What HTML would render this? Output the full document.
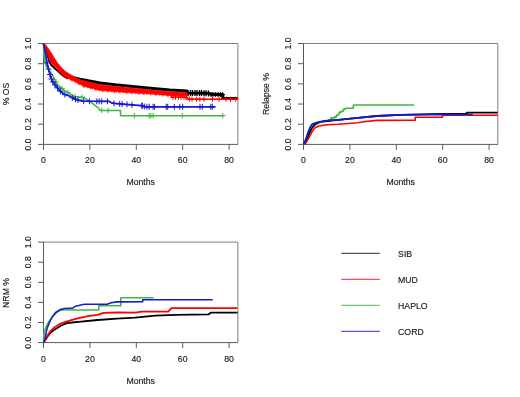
<!DOCTYPE html><html><head><meta charset="utf-8"><style>html,body{margin:0;padding:0;background:#fff;}svg{display:block;filter:blur(0.35px);}text{font-family:"Liberation Sans",sans-serif;font-size:8.7px;fill:#1a1a1a;stroke:#1a1a1a;stroke-width:0.15px;}</style></head><body>
<svg width="520" height="397" viewBox="0 0 520 397">
<path d="M43.5 144.4H237.9" stroke="#5a5a5a" stroke-width="1" fill="none"/>
<path d="M43.5 144.4V43.5" stroke="#5a5a5a" stroke-width="1" fill="none"/>
<path d="M43.0 43.5H237.9V144.9" stroke="#808080" stroke-width="1" fill="none"/>
<line x1="43.50" y1="144.4" x2="43.50" y2="149.9" stroke="#5a5a5a" stroke-width="1"/>
<text x="43.50" y="163.30" text-anchor="middle">0</text>
<line x1="89.90" y1="144.4" x2="89.90" y2="149.9" stroke="#5a5a5a" stroke-width="1"/>
<text x="89.90" y="163.30" text-anchor="middle">20</text>
<line x1="136.30" y1="144.4" x2="136.30" y2="149.9" stroke="#5a5a5a" stroke-width="1"/>
<text x="136.30" y="163.30" text-anchor="middle">40</text>
<line x1="182.70" y1="144.4" x2="182.70" y2="149.9" stroke="#5a5a5a" stroke-width="1"/>
<text x="182.70" y="163.30" text-anchor="middle">60</text>
<line x1="229.10" y1="144.4" x2="229.10" y2="149.9" stroke="#5a5a5a" stroke-width="1"/>
<text x="229.10" y="163.30" text-anchor="middle">80</text>
<line x1="38.0" y1="144.40" x2="43.5" y2="144.40" stroke="#5a5a5a" stroke-width="1"/>
<text transform="translate(30.80,144.40) rotate(-90)" text-anchor="middle">0.0</text>
<line x1="38.0" y1="124.22" x2="43.5" y2="124.22" stroke="#5a5a5a" stroke-width="1"/>
<text transform="translate(30.80,124.22) rotate(-90)" text-anchor="middle">0.2</text>
<line x1="38.0" y1="104.04" x2="43.5" y2="104.04" stroke="#5a5a5a" stroke-width="1"/>
<text transform="translate(30.80,104.04) rotate(-90)" text-anchor="middle">0.4</text>
<line x1="38.0" y1="83.86" x2="43.5" y2="83.86" stroke="#5a5a5a" stroke-width="1"/>
<text transform="translate(30.80,83.86) rotate(-90)" text-anchor="middle">0.6</text>
<line x1="38.0" y1="63.68" x2="43.5" y2="63.68" stroke="#5a5a5a" stroke-width="1"/>
<text transform="translate(30.80,63.68) rotate(-90)" text-anchor="middle">0.8</text>
<line x1="38.0" y1="43.50" x2="43.5" y2="43.50" stroke="#5a5a5a" stroke-width="1"/>
<text transform="translate(30.80,43.50) rotate(-90)" text-anchor="middle">1.0</text>
<text x="140.70" y="184.80" text-anchor="middle">Months</text>
<text transform="translate(9.00,93.95) rotate(-90)" text-anchor="middle">% OS</text>
<path d="M303.5 144.4H497.8" stroke="#5a5a5a" stroke-width="1" fill="none"/>
<path d="M303.5 144.4V43.5" stroke="#5a5a5a" stroke-width="1" fill="none"/>
<path d="M303.0 43.5H497.8V144.9" stroke="#808080" stroke-width="1" fill="none"/>
<line x1="303.50" y1="144.4" x2="303.50" y2="149.9" stroke="#5a5a5a" stroke-width="1"/>
<text x="303.50" y="163.30" text-anchor="middle">0</text>
<line x1="349.90" y1="144.4" x2="349.90" y2="149.9" stroke="#5a5a5a" stroke-width="1"/>
<text x="349.90" y="163.30" text-anchor="middle">20</text>
<line x1="396.30" y1="144.4" x2="396.30" y2="149.9" stroke="#5a5a5a" stroke-width="1"/>
<text x="396.30" y="163.30" text-anchor="middle">40</text>
<line x1="442.70" y1="144.4" x2="442.70" y2="149.9" stroke="#5a5a5a" stroke-width="1"/>
<text x="442.70" y="163.30" text-anchor="middle">60</text>
<line x1="489.10" y1="144.4" x2="489.10" y2="149.9" stroke="#5a5a5a" stroke-width="1"/>
<text x="489.10" y="163.30" text-anchor="middle">80</text>
<line x1="298.0" y1="144.40" x2="303.5" y2="144.40" stroke="#5a5a5a" stroke-width="1"/>
<text transform="translate(290.80,144.40) rotate(-90)" text-anchor="middle">0.0</text>
<line x1="298.0" y1="124.22" x2="303.5" y2="124.22" stroke="#5a5a5a" stroke-width="1"/>
<text transform="translate(290.80,124.22) rotate(-90)" text-anchor="middle">0.2</text>
<line x1="298.0" y1="104.04" x2="303.5" y2="104.04" stroke="#5a5a5a" stroke-width="1"/>
<text transform="translate(290.80,104.04) rotate(-90)" text-anchor="middle">0.4</text>
<line x1="298.0" y1="83.86" x2="303.5" y2="83.86" stroke="#5a5a5a" stroke-width="1"/>
<text transform="translate(290.80,83.86) rotate(-90)" text-anchor="middle">0.6</text>
<line x1="298.0" y1="63.68" x2="303.5" y2="63.68" stroke="#5a5a5a" stroke-width="1"/>
<text transform="translate(290.80,63.68) rotate(-90)" text-anchor="middle">0.8</text>
<line x1="298.0" y1="43.50" x2="303.5" y2="43.50" stroke="#5a5a5a" stroke-width="1"/>
<text transform="translate(290.80,43.50) rotate(-90)" text-anchor="middle">1.0</text>
<text x="400.65" y="184.80" text-anchor="middle">Months</text>
<text transform="translate(269.00,93.95) rotate(-90)" text-anchor="middle">Relapse %</text>
<path d="M43.5 342.6H237.9" stroke="#5a5a5a" stroke-width="1" fill="none"/>
<path d="M43.5 342.6V242.1" stroke="#5a5a5a" stroke-width="1" fill="none"/>
<path d="M43.0 242.1H237.9V343.1" stroke="#808080" stroke-width="1" fill="none"/>
<line x1="43.50" y1="342.6" x2="43.50" y2="348.1" stroke="#5a5a5a" stroke-width="1"/>
<text x="43.50" y="362.00" text-anchor="middle">0</text>
<line x1="89.90" y1="342.6" x2="89.90" y2="348.1" stroke="#5a5a5a" stroke-width="1"/>
<text x="89.90" y="362.00" text-anchor="middle">20</text>
<line x1="136.30" y1="342.6" x2="136.30" y2="348.1" stroke="#5a5a5a" stroke-width="1"/>
<text x="136.30" y="362.00" text-anchor="middle">40</text>
<line x1="182.70" y1="342.6" x2="182.70" y2="348.1" stroke="#5a5a5a" stroke-width="1"/>
<text x="182.70" y="362.00" text-anchor="middle">60</text>
<line x1="229.10" y1="342.6" x2="229.10" y2="348.1" stroke="#5a5a5a" stroke-width="1"/>
<text x="229.10" y="362.00" text-anchor="middle">80</text>
<line x1="38.0" y1="342.60" x2="43.5" y2="342.60" stroke="#5a5a5a" stroke-width="1"/>
<text transform="translate(30.80,342.60) rotate(-90)" text-anchor="middle">0.0</text>
<line x1="38.0" y1="322.50" x2="43.5" y2="322.50" stroke="#5a5a5a" stroke-width="1"/>
<text transform="translate(30.80,322.50) rotate(-90)" text-anchor="middle">0.2</text>
<line x1="38.0" y1="302.40" x2="43.5" y2="302.40" stroke="#5a5a5a" stroke-width="1"/>
<text transform="translate(30.80,302.40) rotate(-90)" text-anchor="middle">0.4</text>
<line x1="38.0" y1="282.30" x2="43.5" y2="282.30" stroke="#5a5a5a" stroke-width="1"/>
<text transform="translate(30.80,282.30) rotate(-90)" text-anchor="middle">0.6</text>
<line x1="38.0" y1="262.20" x2="43.5" y2="262.20" stroke="#5a5a5a" stroke-width="1"/>
<text transform="translate(30.80,262.20) rotate(-90)" text-anchor="middle">0.8</text>
<line x1="38.0" y1="242.10" x2="43.5" y2="242.10" stroke="#5a5a5a" stroke-width="1"/>
<text transform="translate(30.80,242.10) rotate(-90)" text-anchor="middle">1.0</text>
<text x="140.70" y="383.50" text-anchor="middle">Months</text>
<text transform="translate(9.00,292.95) rotate(-90)" text-anchor="middle">NRM %</text>
<polyline points="43.5,43.6 45.1,47.5 46.3,51.0 47.6,55.5 49.0,60.6 51.0,64.8 54.0,67.7 57.3,70.5 60.6,73.5 63.8,76.3 67.1,78.2 68.0,78.4" fill="none" stroke="#000" stroke-width="1.8" stroke-linejoin="round" />
<polyline points="68.0,76.3 72.0,77.4 78.0,78.6 80.0,79.2 100.0,83.0 115.0,84.8 130.0,86.2 153.0,88.6 170.0,90.1 187.0,91.1 187.0,93.0 208.0,93.2 211.0,94.4 222.8,94.6 222.8,98.6 237.5,98.6" fill="none" stroke="#000" stroke-width="3.0" stroke-linejoin="round" />
<path d="M185.0 93.0H191.0M188.0 90.0V96.0" stroke="#000" stroke-width="1.3" fill="none"/>
<path d="M187.5 93.0H193.5M190.5 90.0V96.0" stroke="#000" stroke-width="1.3" fill="none"/>
<path d="M189.5 93.1H195.5M192.5 90.1V96.1" stroke="#000" stroke-width="1.3" fill="none"/>
<path d="M192.0 93.1H198.0M195.0 90.1V96.1" stroke="#000" stroke-width="1.3" fill="none"/>
<path d="M194.0 93.1H200.0M197.0 90.1V96.1" stroke="#000" stroke-width="1.3" fill="none"/>
<path d="M196.5 93.1H202.5M199.5 90.1V96.1" stroke="#000" stroke-width="1.3" fill="none"/>
<path d="M198.5 93.1H204.5M201.5 90.1V96.1" stroke="#000" stroke-width="1.3" fill="none"/>
<path d="M201.0 93.2H207.0M204.0 90.2V96.2" stroke="#000" stroke-width="1.3" fill="none"/>
<path d="M203.0 93.2H209.0M206.0 90.2V96.2" stroke="#000" stroke-width="1.3" fill="none"/>
<path d="M205.5 93.4H211.5M208.5 90.4V96.4" stroke="#000" stroke-width="1.3" fill="none"/>
<path d="M208.7 94.4H213.3M211.0 92.1V96.7" stroke="#000" stroke-width="1.3" fill="none"/>
<path d="M210.7 94.4H215.3M213.0 92.1V96.7" stroke="#000" stroke-width="1.3" fill="none"/>
<path d="M213.2 94.5H217.8M215.5 92.2V96.8" stroke="#000" stroke-width="1.3" fill="none"/>
<path d="M215.7 94.5H220.3M218.0 92.2V96.8" stroke="#000" stroke-width="1.3" fill="none"/>
<path d="M218.2 94.6H222.8M220.5 92.3V96.9" stroke="#000" stroke-width="1.3" fill="none"/>
<path d="M220.2 94.6H224.8M222.5 92.3V96.9" stroke="#000" stroke-width="1.3" fill="none"/>
<path d="M43.5,43.6 L45.0,44.0 L48.0,48.0 L52.0,54.0 L54.0,57.5 L57.3,62.6 L60.6,66.6 L63.8,70.0 L67.1,72.6 L70.4,74.6 L73.7,76.3 L78.0,78.4 L80.0,79.6 L100.0,84.5 L115.0,86.3 L130.0,87.7 L153.0,90.1 L170.0,91.7 L187.0,92.6 L187.0,96.0 L170.0,95.4 L153.0,94.0 L130.0,92.5 L115.0,91.5 L100.0,90.3 L84.0,86.2 L78.0,83.0 L73.7,80.9 L70.4,79.4 L67.1,77.8 L63.8,75.6 L60.6,72.6 L57.3,69.5 L54.0,66.2 L53.0,65.2 L50.6,62.2 L48.5,57.5 L46.6,51.9 L44.5,47.0 L43.5,43.6Z" fill="#f00" stroke="#f00" stroke-width="0.6" stroke-linejoin="round"/>
<path d="M57.8 71.6H62.2M60.0 69.4V73.8" stroke="#f00" stroke-width="0.9" fill="none"/>
<path d="M60.5 73.4H64.9M62.7 71.2V75.6" stroke="#f00" stroke-width="0.9" fill="none"/>
<path d="M61.8 74.5H66.2M64.0 72.3V76.7" stroke="#f00" stroke-width="0.9" fill="none"/>
<path d="M64.5 77.1H68.9M66.7 74.9V79.3" stroke="#f00" stroke-width="0.9" fill="none"/>
<path d="M65.8 77.0H70.2M68.0 74.8V79.2" stroke="#f00" stroke-width="0.9" fill="none"/>
<path d="M68.5 78.3H72.9M70.7 76.1V80.5" stroke="#f00" stroke-width="0.9" fill="none"/>
<path d="M69.8 79.7H74.2M72.0 77.5V81.9" stroke="#f00" stroke-width="0.9" fill="none"/>
<path d="M72.5 80.2H76.9M74.7 78.0V82.4" stroke="#f00" stroke-width="0.9" fill="none"/>
<path d="M73.8 80.8H78.2M76.0 78.6V83.0" stroke="#f00" stroke-width="0.9" fill="none"/>
<path d="M76.5 83.0H80.9M78.7 80.8V85.2" stroke="#f00" stroke-width="0.9" fill="none"/>
<path d="M77.8 82.9H82.2M80.0 80.7V85.1" stroke="#f00" stroke-width="0.9" fill="none"/>
<path d="M80.5 84.3H84.9M82.7 82.1V86.5" stroke="#f00" stroke-width="0.9" fill="none"/>
<path d="M81.8 85.8H86.2M84.0 83.6V88.0" stroke="#f00" stroke-width="0.9" fill="none"/>
<path d="M84.5 85.7H88.9M86.7 83.5V87.9" stroke="#f00" stroke-width="0.9" fill="none"/>
<path d="M85.8 86.0H90.2M88.0 83.8V88.2" stroke="#f00" stroke-width="0.9" fill="none"/>
<path d="M88.5 87.5H92.9M90.7 85.3V89.7" stroke="#f00" stroke-width="0.9" fill="none"/>
<path d="M89.8 87.0H94.2M92.0 84.8V89.2" stroke="#f00" stroke-width="0.9" fill="none"/>
<path d="M92.5 87.7H96.9M94.7 85.5V89.9" stroke="#f00" stroke-width="0.9" fill="none"/>
<path d="M93.8 88.9H98.2M96.0 86.7V91.1" stroke="#f00" stroke-width="0.9" fill="none"/>
<path d="M96.5 88.8H100.9M98.7 86.6V91.0" stroke="#f00" stroke-width="0.9" fill="none"/>
<path d="M97.8 89.1H102.2M100.0 86.9V91.3" stroke="#f00" stroke-width="0.9" fill="none"/>
<path d="M100.5 90.1H104.9M102.7 87.9V92.3" stroke="#f00" stroke-width="0.9" fill="none"/>
<path d="M101.8 89.4H106.2M104.0 87.2V91.6" stroke="#f00" stroke-width="0.9" fill="none"/>
<path d="M104.5 89.6H108.9M106.7 87.4V91.8" stroke="#f00" stroke-width="0.9" fill="none"/>
<path d="M105.8 90.5H110.2M108.0 88.3V92.7" stroke="#f00" stroke-width="0.9" fill="none"/>
<path d="M108.5 90.0H112.9M110.7 87.8V92.2" stroke="#f00" stroke-width="0.9" fill="none"/>
<path d="M109.8 90.1H114.2M112.0 87.9V92.3" stroke="#f00" stroke-width="0.9" fill="none"/>
<path d="M112.5 91.1H116.9M114.7 88.9V93.3" stroke="#f00" stroke-width="0.9" fill="none"/>
<path d="M113.8 90.4H118.2M116.0 88.2V92.6" stroke="#f00" stroke-width="0.9" fill="none"/>
<path d="M116.5 90.5H120.9M118.7 88.3V92.7" stroke="#f00" stroke-width="0.9" fill="none"/>
<path d="M117.8 91.4H122.2M120.0 89.2V93.6" stroke="#f00" stroke-width="0.9" fill="none"/>
<path d="M120.5 90.8H124.9M122.7 88.6V93.0" stroke="#f00" stroke-width="0.9" fill="none"/>
<path d="M121.8 90.9H126.2M124.0 88.7V93.1" stroke="#f00" stroke-width="0.9" fill="none"/>
<path d="M124.5 91.9H128.9M126.7 89.7V94.1" stroke="#f00" stroke-width="0.9" fill="none"/>
<path d="M125.8 91.2H130.2M128.0 89.0V93.4" stroke="#f00" stroke-width="0.9" fill="none"/>
<path d="M128.5 91.3H132.9M130.7 89.1V93.5" stroke="#f00" stroke-width="0.9" fill="none"/>
<path d="M129.8 92.2H134.2M132.0 90.0V94.4" stroke="#f00" stroke-width="0.9" fill="none"/>
<path d="M132.5 91.6H136.9M134.7 89.4V93.8" stroke="#f00" stroke-width="0.9" fill="none"/>
<path d="M133.8 91.7H138.2M136.0 89.5V93.9" stroke="#f00" stroke-width="0.9" fill="none"/>
<path d="M136.5 92.7H140.9M138.7 90.5V94.9" stroke="#f00" stroke-width="0.9" fill="none"/>
<path d="M137.8 92.0H142.2M140.0 89.8V94.2" stroke="#f00" stroke-width="0.9" fill="none"/>
<path d="M140.5 92.1H144.9M142.7 89.9V94.3" stroke="#f00" stroke-width="0.9" fill="none"/>
<path d="M141.8 93.0H146.2M144.0 90.8V95.2" stroke="#f00" stroke-width="0.9" fill="none"/>
<path d="M144.5 92.4H148.9M146.7 90.2V94.6" stroke="#f00" stroke-width="0.9" fill="none"/>
<path d="M145.8 92.5H150.2M148.0 90.3V94.7" stroke="#f00" stroke-width="0.9" fill="none"/>
<path d="M148.5 93.4H152.9M150.7 91.2V95.6" stroke="#f00" stroke-width="0.9" fill="none"/>
<path d="M149.8 92.7H154.2M152.0 90.5V94.9" stroke="#f00" stroke-width="0.9" fill="none"/>
<path d="M152.5 92.9H156.9M154.7 90.7V95.1" stroke="#f00" stroke-width="0.9" fill="none"/>
<path d="M153.8 93.8H158.2M156.0 91.6V96.0" stroke="#f00" stroke-width="0.9" fill="none"/>
<path d="M156.5 93.3H160.9M158.7 91.1V95.5" stroke="#f00" stroke-width="0.9" fill="none"/>
<path d="M157.8 93.4H162.2M160.0 91.2V95.6" stroke="#f00" stroke-width="0.9" fill="none"/>
<path d="M160.5 94.4H164.9M162.7 92.2V96.6" stroke="#f00" stroke-width="0.9" fill="none"/>
<path d="M161.8 93.7H166.2M164.0 91.5V95.9" stroke="#f00" stroke-width="0.9" fill="none"/>
<path d="M164.5 93.9H168.9M166.7 91.7V96.1" stroke="#f00" stroke-width="0.9" fill="none"/>
<path d="M165.8 94.8H170.2M168.0 92.6V97.0" stroke="#f00" stroke-width="0.9" fill="none"/>
<path d="M168.5 94.2H172.9M170.7 92.0V96.4" stroke="#f00" stroke-width="0.9" fill="none"/>
<path d="M169.8 94.3H174.2M172.0 92.1V96.5" stroke="#f00" stroke-width="0.9" fill="none"/>
<path d="M172.5 95.2H176.9M174.7 93.0V97.4" stroke="#f00" stroke-width="0.9" fill="none"/>
<path d="M173.8 94.4H178.2M176.0 92.2V96.6" stroke="#f00" stroke-width="0.9" fill="none"/>
<path d="M176.5 94.5H180.9M178.7 92.3V96.7" stroke="#f00" stroke-width="0.9" fill="none"/>
<path d="M177.8 95.4H182.2M180.0 93.2V97.6" stroke="#f00" stroke-width="0.9" fill="none"/>
<path d="M180.5 94.6H184.9M182.7 92.4V96.8" stroke="#f00" stroke-width="0.9" fill="none"/>
<path d="M181.8 94.7H186.2M184.0 92.5V96.9" stroke="#f00" stroke-width="0.9" fill="none"/>
<path d="M184.5 95.6H188.9M186.7 93.4V97.8" stroke="#f00" stroke-width="0.9" fill="none"/>
<polyline points="171.5,95.0 171.5,97.3 187.0,97.3 187.0,99.2 237.5,99.2" fill="none" stroke="#f00" stroke-width="1.5" stroke-linejoin="round" />
<path d="M170.5 97.3H175.5M173.0 94.8V99.8" stroke="#f00" stroke-width="1.0" fill="none"/>
<path d="M173.0 97.3H178.0M175.5 94.8V99.8" stroke="#f00" stroke-width="1.0" fill="none"/>
<path d="M176.0 97.3H181.0M178.5 94.8V99.8" stroke="#f00" stroke-width="1.0" fill="none"/>
<path d="M178.5 97.3H183.5M181.0 94.8V99.8" stroke="#f00" stroke-width="1.0" fill="none"/>
<path d="M181.5 97.3H186.5M184.0 94.8V99.8" stroke="#f00" stroke-width="1.0" fill="none"/>
<path d="M183.5 97.3H188.5M186.0 94.8V99.8" stroke="#f00" stroke-width="1.0" fill="none"/>
<path d="M186.8 99.2H192.0M189.4 96.6V101.8" stroke="#f00" stroke-width="1.0" fill="none"/>
<path d="M189.4 99.2H194.6M192.0 96.6V101.8" stroke="#f00" stroke-width="1.0" fill="none"/>
<path d="M194.0 99.2H199.2M196.6 96.6V101.8" stroke="#f00" stroke-width="1.0" fill="none"/>
<path d="M197.2 99.2H202.4M199.8 96.6V101.8" stroke="#f00" stroke-width="1.0" fill="none"/>
<path d="M201.4 99.2H206.6M204.0 96.6V101.8" stroke="#f00" stroke-width="1.0" fill="none"/>
<path d="M209.9 99.2H215.1M212.5 96.6V101.8" stroke="#f00" stroke-width="1.0" fill="none"/>
<path d="M216.4 99.2H221.6M219.0 96.6V101.8" stroke="#f00" stroke-width="1.0" fill="none"/>
<path d="M223.4 99.2H228.6M226.0 96.6V101.8" stroke="#f00" stroke-width="1.0" fill="none"/>
<path d="M227.9 99.2H233.1M230.5 96.6V101.8" stroke="#f00" stroke-width="1.0" fill="none"/>
<path d="M233.2 99.2H238.4M235.8 96.6V101.8" stroke="#f00" stroke-width="1.0" fill="none"/>
<polyline points="43.5,43.6 43.6,47.5 43.9,54.6 44.9,61.6 46.3,66.6 48.5,69.4 50.6,72.0 52.9,76.2 55.7,81.3 57.6,84.9 64.6,90.7 69.4,93.5 74.2,96.4 83.8,97.4 88.7,100.8 93.5,104.1 98.3,108.0 100.0,110.4 120.5,110.4 120.5,115.7 222.8,115.7" fill="none" stroke="#3cb93c" stroke-width="1.5" stroke-linejoin="round" />
<path d="M99.0 110.4H104.4M101.7 107.7V113.1" stroke="#3cb93c" stroke-width="1.0" fill="none"/>
<path d="M105.5 110.4H110.9M108.2 107.7V113.1" stroke="#3cb93c" stroke-width="1.0" fill="none"/>
<path d="M131.7 115.7H137.1M134.4 113.0V118.4" stroke="#3cb93c" stroke-width="1.0" fill="none"/>
<path d="M146.5 115.7H151.9M149.2 113.0V118.4" stroke="#3cb93c" stroke-width="1.0" fill="none"/>
<path d="M148.1 115.7H153.5M150.8 113.0V118.4" stroke="#3cb93c" stroke-width="1.0" fill="none"/>
<path d="M150.4 115.7H155.8M153.1 113.0V118.4" stroke="#3cb93c" stroke-width="1.0" fill="none"/>
<path d="M179.6 115.7H185.0M182.3 113.0V118.4" stroke="#3cb93c" stroke-width="1.0" fill="none"/>
<path d="M220.1 115.7H225.5M222.8 113.0V118.4" stroke="#3cb93c" stroke-width="1.0" fill="none"/>
<path d="M53.3 81.9H58.7M56.0 79.2V84.6" stroke="#3cb93c" stroke-width="1.0" fill="none"/>
<path d="M59.3 88.5H64.7M62.0 85.8V91.2" stroke="#3cb93c" stroke-width="1.0" fill="none"/>
<path d="M65.3 92.7H70.7M68.0 90.0V95.4" stroke="#3cb93c" stroke-width="1.0" fill="none"/>
<path d="M72.3 96.5H77.7M75.0 93.8V99.2" stroke="#3cb93c" stroke-width="1.0" fill="none"/>
<path d="M79.3 97.2H84.7M82.0 94.5V99.9" stroke="#3cb93c" stroke-width="1.0" fill="none"/>
<polyline points="43.5,43.6 44.2,46.8 45.6,54.6 46.7,61.6 47.8,65.9 49.2,72.0 50.3,75.5 52.0,80.5 55.0,84.9 59.8,90.7 64.6,94.5 69.4,96.0 74.2,98.8 79.0,100.3 83.8,101.2 109.0,101.3 111.0,102.5 114.0,103.3 125.4,104.3 141.7,105.6 145.0,106.8 215.4,106.8" fill="none" stroke="#1a1acc" stroke-width="1.8" stroke-linejoin="round" />
<path d="M44.0 62.8H50.0M47.0 59.8V65.8" stroke="#1a1acc" stroke-width="1.0" fill="none"/>
<path d="M45.5 69.0H51.5M48.5 66.0V72.0" stroke="#1a1acc" stroke-width="1.0" fill="none"/>
<path d="M47.0 74.5H53.0M50.0 71.5V77.5" stroke="#1a1acc" stroke-width="1.0" fill="none"/>
<path d="M48.5 79.0H54.5M51.5 76.0V82.0" stroke="#1a1acc" stroke-width="1.0" fill="none"/>
<path d="M50.0 82.0H56.0M53.0 79.0V85.0" stroke="#1a1acc" stroke-width="1.0" fill="none"/>
<path d="M52.0 84.9H58.0M55.0 81.9V87.9" stroke="#1a1acc" stroke-width="1.0" fill="none"/>
<path d="M54.5 87.9H60.5M57.5 84.9V90.9" stroke="#1a1acc" stroke-width="1.0" fill="none"/>
<path d="M57.5 91.3H63.5M60.5 88.3V94.3" stroke="#1a1acc" stroke-width="1.0" fill="none"/>
<path d="M61.9 94.6H67.9M64.9 91.6V97.6" stroke="#1a1acc" stroke-width="1.0" fill="none"/>
<path d="M69.3 97.7H75.3M72.3 94.7V100.7" stroke="#1a1acc" stroke-width="1.0" fill="none"/>
<path d="M72.5 99.2H78.5M75.5 96.2V102.2" stroke="#1a1acc" stroke-width="1.0" fill="none"/>
<path d="M75.0 100.0H81.0M78.0 97.0V103.0" stroke="#1a1acc" stroke-width="1.0" fill="none"/>
<path d="M80.7 101.2H86.7M83.7 98.2V104.2" stroke="#1a1acc" stroke-width="1.0" fill="none"/>
<path d="M86.4 101.2H92.4M89.4 98.2V104.2" stroke="#1a1acc" stroke-width="1.0" fill="none"/>
<path d="M93.8 101.3H99.8M96.8 98.3V104.3" stroke="#1a1acc" stroke-width="1.0" fill="none"/>
<path d="M96.2 101.3H102.2M99.2 98.3V104.3" stroke="#1a1acc" stroke-width="1.0" fill="none"/>
<path d="M98.7 101.3H104.7M101.7 98.3V104.3" stroke="#1a1acc" stroke-width="1.0" fill="none"/>
<path d="M104.4 101.3H110.4M107.4 98.3V104.3" stroke="#1a1acc" stroke-width="1.0" fill="none"/>
<path d="M111.0 103.3H117.0M114.0 100.3V106.3" stroke="#1a1acc" stroke-width="1.0" fill="none"/>
<path d="M116.7 103.8H122.7M119.7 100.8V106.8" stroke="#1a1acc" stroke-width="1.0" fill="none"/>
<path d="M119.1 104.0H125.1M122.1 101.0V107.0" stroke="#1a1acc" stroke-width="1.0" fill="none"/>
<path d="M124.0 104.4H130.0M127.0 101.4V107.4" stroke="#1a1acc" stroke-width="1.0" fill="none"/>
<path d="M128.9 104.8H134.9M131.9 101.8V107.8" stroke="#1a1acc" stroke-width="1.0" fill="none"/>
<path d="M138.7 105.6H144.7M141.7 102.6V108.6" stroke="#1a1acc" stroke-width="1.0" fill="none"/>
<path d="M139.3 105.8H145.3M142.3 102.8V108.8" stroke="#1a1acc" stroke-width="1.0" fill="none"/>
<path d="M141.3 106.5H147.3M144.3 103.5V109.5" stroke="#1a1acc" stroke-width="1.0" fill="none"/>
<path d="M143.9 106.8H149.9M146.9 103.8V109.8" stroke="#1a1acc" stroke-width="1.0" fill="none"/>
<path d="M146.2 106.8H152.2M149.2 103.8V109.8" stroke="#1a1acc" stroke-width="1.0" fill="none"/>
<path d="M150.1 106.8H156.1M153.1 103.8V109.8" stroke="#1a1acc" stroke-width="1.0" fill="none"/>
<path d="M151.6 106.8H157.6M154.6 103.8V109.8" stroke="#1a1acc" stroke-width="1.0" fill="none"/>
<path d="M163.2 106.8H169.2M166.2 103.8V109.8" stroke="#1a1acc" stroke-width="1.0" fill="none"/>
<path d="M164.7 106.8H170.7M167.7 103.8V109.8" stroke="#1a1acc" stroke-width="1.0" fill="none"/>
<path d="M171.3 106.8H177.3M174.3 103.8V109.8" stroke="#1a1acc" stroke-width="1.0" fill="none"/>
<path d="M176.8 106.8H182.8M179.8 103.8V109.8" stroke="#1a1acc" stroke-width="1.0" fill="none"/>
<path d="M179.7 106.8H185.7M182.7 103.8V109.8" stroke="#1a1acc" stroke-width="1.0" fill="none"/>
<path d="M197.0 106.8H203.0M200.0 103.8V109.8" stroke="#1a1acc" stroke-width="1.0" fill="none"/>
<path d="M199.3 106.8H205.3M202.3 103.8V109.8" stroke="#1a1acc" stroke-width="1.0" fill="none"/>
<path d="M207.8 106.8H213.8M210.8 103.8V109.8" stroke="#1a1acc" stroke-width="1.0" fill="none"/>
<path d="M209.3 106.8H215.3M212.3 103.8V109.8" stroke="#1a1acc" stroke-width="1.0" fill="none"/>
<polyline points="303.8,144.2 305.6,143.3 309.3,137.2 312.0,131.8 314.7,128.1 318.3,126.3 324.7,125.0 332.0,124.5 338.5,124.3 357.7,122.7 363.5,121.7 376.9,120.4 415.2,120.2 415.2,117.2 442.5,117.2 442.5,115.2 497.6,115.2" fill="none" stroke="#f00" stroke-width="1.6" stroke-linejoin="round" />
<polyline points="303.8,144.2 306.0,140.0 308.3,135.4 311.0,130.0 313.8,126.3 316.5,124.5 320.0,122.5 325.0,120.8 328.8,120.8 328.8,119.8 331.0,119.8 331.0,117.9 334.6,117.9 334.6,116.9 336.5,116.9 336.5,115.0 338.5,115.0 338.5,114.0 339.4,114.0 339.4,112.1 341.3,112.1 341.3,111.2 343.3,111.2 343.3,109.2 345.2,109.2 345.2,108.3 353.4,108.3 353.4,105.0 414.2,105.0" fill="none" stroke="#3cb93c" stroke-width="1.6" stroke-linejoin="round" />
<polyline points="303.8,144.2 307.0,138.0 311.5,128.5 315.0,124.0 320.0,121.8 338.5,119.8 357.7,117.9 376.9,116.0 400.0,114.8 443.5,113.8 466.7,113.8 466.7,112.6 497.6,112.6" fill="none" stroke="#000" stroke-width="1.8" stroke-linejoin="round" />
<polyline points="303.8,144.2 304.3,143.5 306.5,137.2 308.3,131.8 310.2,127.2 311.5,125.0 312.9,123.8 316.5,122.6 320.1,121.8 324.7,120.9 332.0,120.2 338.5,119.8 357.7,117.9 376.9,116.0 400.0,114.9 443.5,114.3 472.7,114.6" fill="none" stroke="#1a1acc" stroke-width="1.8" stroke-linejoin="round" />
<polyline points="43.5,342.6 45.0,340.5 47.7,336.3 51.0,332.3 55.6,328.9 61.3,325.5 66.9,323.2 72.0,322.5 78.5,321.9 97.7,320.0 116.9,318.7 135.0,317.7 155.2,315.7 175.4,314.9 208.7,314.3 210.7,312.7 237.5,312.7" fill="none" stroke="#000" stroke-width="1.8" stroke-linejoin="round" />
<polyline points="43.5,342.6 45.0,340.0 47.7,335.1 51.0,330.6 54.5,327.2 59.0,324.4 64.7,322.1 72.0,319.8 78.5,318.1 88.1,316.2 97.7,314.8 103.5,312.9 116.9,312.5 135.0,312.7 142.0,311.7 168.3,311.7 171.3,308.2 237.5,308.2" fill="none" stroke="#f00" stroke-width="1.8" stroke-linejoin="round" />
<polyline points="43.5,342.6 43.8,336.0 44.5,331.0 47.0,325.0 50.0,320.0 54.0,315.0 58.0,311.5 61.2,310.0 98.7,310.0 98.7,305.8 120.8,305.8 120.8,297.7 153.6,297.7" fill="none" stroke="#3cb93c" stroke-width="1.6" stroke-linejoin="round" />
<polyline points="43.5,342.6 44.3,341.5 45.4,336.3 47.1,328.3 49.4,322.7 52.2,317.0 55.6,312.5 60.1,309.6 64.7,308.5 72.7,308.1 75.6,306.2 84.2,304.2 107.3,304.2 111.2,302.7 116.9,301.9 142.7,301.8 142.7,299.7 212.7,299.7" fill="none" stroke="#1a1acc" stroke-width="1.6" stroke-linejoin="round" />
<line x1="341.3" y1="253.3" x2="379.8" y2="253.3" stroke="#2a2a2a" stroke-width="1.0"/>
<text x="398.1" y="256.6">SIB</text>
<line x1="341.3" y1="279.3" x2="379.8" y2="279.3" stroke="#ee2233" stroke-width="1.0"/>
<text x="398.1" y="282.6">MUD</text>
<line x1="341.3" y1="305.3" x2="379.8" y2="305.3" stroke="#44c044" stroke-width="1.0"/>
<text x="398.1" y="308.6">HAPLO</text>
<line x1="341.3" y1="331.3" x2="379.8" y2="331.3" stroke="#2a2ad0" stroke-width="1.0"/>
<text x="398.1" y="334.6">CORD</text>
</svg></body></html>
